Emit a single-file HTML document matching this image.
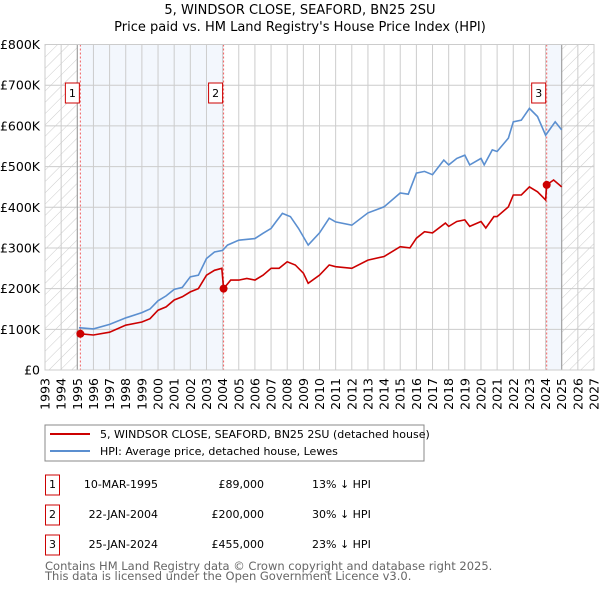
<!DOCTYPE html>
<html><head><meta charset="utf-8"><style>
body{margin:0;background:#fff;font-family:"DejaVu Sans","Liberation Sans",sans-serif;}
svg text{font-family:"DejaVu Sans","Liberation Sans",sans-serif;}
</style></head><body>
<svg id="chart" width="600" height="590" xmlns="http://www.w3.org/2000/svg">
<defs><pattern id="hatch" patternUnits="userSpaceOnUse" width="8" height="8" patternTransform="rotate(45)"><line x1="0" y1="0" x2="0" y2="8" stroke="#ccc" stroke-width="1"/></pattern></defs>
<text x="300" y="14" font-size="13" text-anchor="middle">5, WINDSOR CLOSE, SEAFORD, BN25 2SU</text>
<text x="300" y="31" font-size="13" text-anchor="middle">Price paid vs. HM Land Registry's House Price Index (HPI)</text>
<g id="plot"></g>
<g>
<rect x="45" y="425" width="379" height="36" fill="#fff" stroke="#888"/>
<line x1="50" y1="434" x2="90" y2="434" stroke="#cc0000" stroke-width="2"/>
<text x="100" y="438" font-size="11">5, WINDSOR CLOSE, SEAFORD, BN25 2SU (detached house)</text>
<line x1="50" y1="451" x2="90" y2="451" stroke="#5b8fd0" stroke-width="2"/>
<text x="100" y="455" font-size="11">HPI: Average price, detached house, Lewes</text>
</g>
<g id="table" font-size="11"></g>
<text x="45" y="570" font-size="11.5" fill="#666">Contains HM Land Registry data © Crown copyright and database right 2025.</text>
<text x="45" y="580" font-size="11.5" fill="#666">This data is licensed under the Open Government Licence v3.0.</text>
</svg>
<script>
const hpiYears=[1995.1,1996,1997,1998,1999,1999.5,2000,2000.5,2001,2001.5,2002,2002.5,2003,2003.5,2004,2004.3,2005,2006,2006.5,2007,2007.3,2007.7,2008.2,2008.7,2009.3,2010,2010.6,2011,2012,2013,2014,2015,2015.5,2016,2016.5,2017,2017.7,2018,2018.5,2019,2019.3,2020,2020.2,2020.7,2021,2021.7,2022,2022.5,2023,2023.5,2024,2024.6,2025];
const hpiValues=[104,101,112,128,141,150,170,182,198,203,229,233,274,290,294,307,319,323,336,348,364,385,377,348,307,337,373,364,356,386,401,435,432,484,488,480,516,504,520,528,504,520,504,541,537,570,610,614,643,623,577,610,590];
const paidYears=[1995.19,1996,1997,1998,1999,1999.5,2000,2000.5,2001,2001.5,2002,2002.5,2003,2003.5,2003.95,2004.06,2004.5,2005,2005.5,2006,2006.5,2007,2007.5,2008,2008.5,2009,2009.3,2010,2010.6,2011,2012,2013,2014,2015,2015.6,2016,2016.5,2017,2017.8,2018,2018.5,2019,2019.3,2020,2020.3,2020.8,2021,2021.7,2022,2022.5,2023,2023.5,2024,2024.07,2024.5,2025];
const paidValues=[89,86,93,110,118,126,147,155,172,180,192,200,233,245,250,200,221,221,225,221,233,250,250,266,258,238,213,233,258,254,250,270,279,303,300,324,340,337,361,353,365,369,353,365,349,377,377,401,430,430,450,438,418,455,467,450];
const saleYears=[1995.19,2004.06,2024.07];
const saleValues=[89,200,455];
const saleLabels=["1","2","3"];
const saleDates=["10-MAR-1995","22-JAN-2004","25-JAN-2024"];
const salePrices=["£89,000","£200,000","£455,000"];
const saleDiffs=["13% ↓ HPI","30% ↓ HPI","23% ↓ HPI"];
const yTicks=[0,100,200,300,400,500,600,700,800];
const yTickLabels=["£0","£100K","£200K","£300K","£400K","£500K","£600K","£700K","£800K"];

const L=45,R=594,T=44.5,B=370,X0=1993,X1=2027,YMAX=800;
const xs=v=>L+(v-X0)/(X1-X0)*(R-L);
const ys=v=>B-v/YMAX*(B-T);
const NS="http://www.w3.org/2000/svg";
const plot=document.getElementById('plot');
function mk(tag,attrs,parent){const e=document.createElementNS(NS,tag);for(const k in attrs)e.setAttribute(k,attrs[k]);(parent||plot).appendChild(e);return e;}
let s=mk('rect',{x:L,y:T,width:xs(1995)-L,height:B-T,fill:'url(#hatch)'});

s=mk('rect',{x:xs(2025),y:T,width:R-xs(2025),height:B-T,fill:'url(#hatch)'});

s=mk('rect',{x:xs(saleYears[0]),y:T,width:xs(saleYears[1])-xs(saleYears[0]),height:B-T,fill:'#eef3fc',opacity:0.7});

s=mk('rect',{x:xs(saleYears[2]),y:T,width:xs(2025)-xs(saleYears[2]),height:B-T,fill:'#eef3fc',opacity:0.7});

for(let y=X0;y<=X1;y++){const g=mk('line',{x1:xs(y),x2:xs(y),y1:T,y2:B,stroke:'#ccc','stroke-width':1});

const t=mk('text',{x:xs(y)+4.5,y:378,'font-size':12.5,'text-anchor':'end',transform:`rotate(-90 ${xs(y)+4.5} 378)`});t.textContent=y;
}
yTicks.forEach((v,i)=>{const g=mk('line',{x1:L,x2:R,y1:ys(v),y2:ys(v),stroke:'#ccc','stroke-width':1});

const t=mk('text',{x:40,y:ys(v)+4.5,'font-size':12.5,'text-anchor':'end'});t.textContent=yTickLabels[i];
});
let b=mk('line',{x1:xs(1995),x2:xs(1995),y1:T,y2:B,stroke:'#999'});
b=mk('line',{x1:xs(2025),x2:xs(2025),y1:T,y2:B,stroke:'#999'});
saleYears.forEach((yr,i)=>{const l=mk('line',{x1:xs(yr),x2:xs(yr),y1:T,y2:B,stroke:'#f06060','stroke-dasharray':'2,2'});
});
function path(xsA,vs){return xsA.map((x,i)=>(i?'L':'M')+xs(x).toFixed(1)+','+ys(vs[i]).toFixed(1)).join('');}
let p=mk('path',{d:path(hpiYears,hpiValues),fill:'none',stroke:'#5b8fd0','stroke-width':1.6});

p=mk('path',{d:path(paidYears,paidValues),fill:'none',stroke:'#cc0000','stroke-width':1.6});

saleYears.forEach((yr,i)=>{const c=mk('circle',{cx:xs(yr),cy:ys(saleValues[i]),r:4,fill:'#cc0000'});

const r=mk('rect',{x:xs(yr)-15,y:83,width:14,height:20,fill:'#fff',stroke:'#cc0000'});

const t=mk('text',{x:xs(yr)-8,y:97,'font-size':11,'text-anchor':'middle'});t.textContent=saleLabels[i];
});
mk('rect',{x:L,y:T,width:R-L,height:B-T,fill:'none',stroke:'#ccc'});
const tb=document.getElementById('table');
saleYears.forEach((yr,i)=>{const y0=475+i*30;
const r=mk('rect',{x:45.5,y:y0,width:14,height:20,fill:'#fff',stroke:'#cc0000'},tb);
const t0=mk('text',{x:52.5,y:y0+13,'text-anchor':'middle'},tb);t0.textContent=saleLabels[i];
const t1=mk('text',{x:158,y:y0+13,'text-anchor':'end'},tb);t1.textContent=saleDates[i];
const t2=mk('text',{x:264,y:y0+13,'text-anchor':'end'},tb);t2.textContent=salePrices[i];
const t3=mk('text',{x:312,y:y0+13},tb);t3.textContent=saleDiffs[i];});
</script>
</body></html>
